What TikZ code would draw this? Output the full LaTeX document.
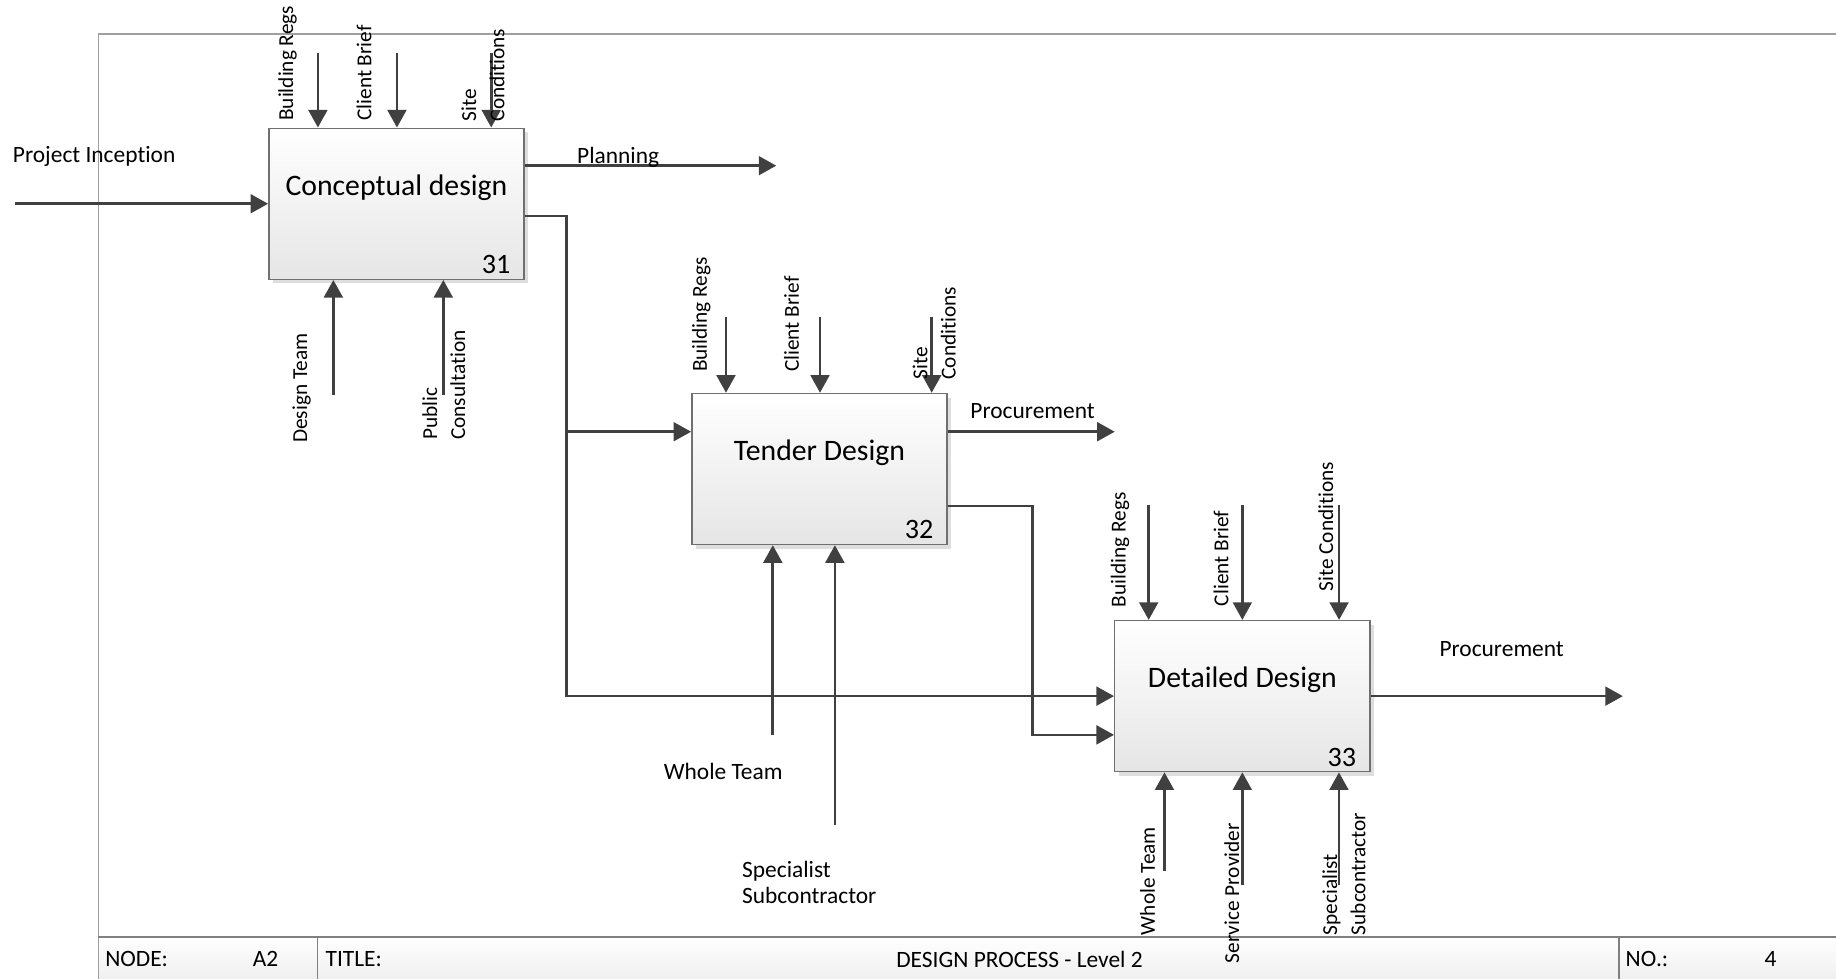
\documentclass[tikz,border=0pt]{standalone}
\usepackage{fontspec}
\setmainfont{Carlito}[Ligatures={NoCommon,NoContextual}]
\usetikzlibrary{arrows.meta,shadows,calc}

\definecolor{flowgray}{HTML}{404040}
\definecolor{framegray}{HTML}{A0A0A0}
\definecolor{footgray}{HTML}{808080}
\definecolor{boxedge}{HTML}{707070}

\begin{document}
\begin{tikzpicture}[x=0.5pt,y=-0.5pt,
  flow/.style={draw=flowgray, line width=1.15pt, -{Triangle[length=7.5pt,width=8pt]}},
  actbox/.style={draw=boxedge, line width=0.6pt, minimum width=109pt, minimum height=64.5pt,
    inner sep=0pt, top color=white, bottom color=black!10,
    drop shadow={shadow xshift=1.8pt, shadow yshift=-1.8pt, fill=black!13, opacity=1}},
  acttitle/.style={font=\fontsize{12.7}{15}\selectfont, inner sep=0pt},
  actnum/.style={font=\fontsize{12}{14}\selectfont, inner sep=0pt, anchor=east},
  vlab/.style={font=\fontsize{9.1}{12}\selectfont, rotate=90, anchor=west, inner sep=0pt, align=left},
  hlab/.style={font=\fontsize{10}{10.8}\selectfont, anchor=west, inner sep=0pt, align=left},
  foot/.style={font=\fontsize{10}{12}\selectfont, inner sep=0pt},
  frameline/.style={draw=framegray, line width=0.7pt},
  footline/.style={draw=footgray, line width=0.7pt}
]
\useasboundingbox (0,0) rectangle (1568,836);

% sheet frame and title strip
\fill[top color=white, bottom color=black!6] (84,800) rectangle (1568,836);
\draw[frameline] (1568,28.8) -- (84,28.8) -- (84,836);
\draw[footline] (84,800) -- (1568,800);
\draw[footline] (271.2,800) -- (271.2,836);
\draw[footline] (1382.4,800) -- (1382.4,836);
\node[foot, anchor=west] (fNode) at (89.5,819) {NODE:};
\node[foot, anchor=west] (fNodeVal) at (215.6,819) {A2};
\node[foot, anchor=west] (fTitle) at (277.7,819) {TITLE:};
\node[foot] (fTitleVal) at (870.7,819) {DESIGN PROCESS - Level 2};
\node[foot, anchor=west] (fNo) at (1388,819) {NO.:};
\node[foot] (fNoVal) at (1512,819) {4};

% activity boxes
\node[actbox] (b31) at (338.6,174) {};
\node[actbox] (b32) at (699.85,400.5) {};
\node[actbox] (b33) at (1061,594.5) {};
\node[acttitle] (t31) at ($(b31.center)+(0,-14)$) {Conceptual design};
\node[acttitle] (t32) at ($(b32.center)+(0,-14)$) {Tender Design};
\node[acttitle] (t33) at ($(b33.center)+(0,-14)$) {Detailed Design};
\node[actnum] (n31) at ($(b31.south east)+(-12,-13)$) {31};
\node[actnum] (n32) at ($(b32.south east)+(-12,-13)$) {32};
\node[actnum] (n33) at ($(b33.south east)+(-12,-13)$) {33};

% ---- Conceptual design ----
\coordinate (inA) at (12.8,174);
\draw[flow] (inA) -- (b31.west);
\node[hlab] (lInA) at (10.7,134) {Project Inception};

\coordinate (c31a) at (271.5,45.5);
\coordinate (c31b) at (339,45.5);
\coordinate (c31c) at (419.5,45.5);
\draw[flow] (c31a) -- (c31a |- b31.north);
\draw[flow] (c31b) -- (c31b |- b31.north);
\draw[flow] (c31c) -- (c31c |- b31.north);
\node[vlab] (l31a) at (245.5,103.5) {Building Regs};
\node[vlab] (l31b) at (311,103.5) {Client Brief};
\node[vlab] (l31c) at (412.5,104) {Site\\Conditions};

\coordinate (m31a) at (284.7,337.4);
\coordinate (m31b) at (378.6,337.4);
\draw[flow] (m31a) -- (m31a |- b31.south);
\draw[flow] (m31b) -- (m31b |- b31.south);
\node[vlab] (lm31a) at (257.6,378.5) {Design Team};
\node[vlab] (lm31b) at (379,376) {Public\\Consultation};

\coordinate (planEnd) at (663,141.5);
\draw[flow] (b31.east |- planEnd) -- (planEnd);
\node[hlab, anchor=base west] (lPlan) at (492.5,140) {Planning};

\coordinate (split31) at (484,184.5);
\draw[flow] (b31.east |- split31) -- (split31) |- (b33.west);
\coordinate (tap32) at (484,368.7);
\draw[flow] (tap32) -- (tap32 -| b32.west);

% ---- Tender Design ----
\coordinate (c32a) at (620,270.5);
\coordinate (c32b) at (700.3,270.5);
\coordinate (c32c) at (795.7,270.5);
\draw[flow] (c32a) -- (c32a |- b32.north);
\draw[flow] (c32b) -- (c32b |- b32.north);
\draw[flow] (c32c) -- (c32c |- b32.north);
\node[vlab] (l32a) at (599,318) {Building Regs};
\node[vlab] (l32b) at (676,318) {Client Brief};
\node[vlab] (l32c) at (797.9,324.5) {Site\\Conditions};

\coordinate (proc32End) at (952,368.7);
\draw[flow] (b32.east |- proc32End) -- (proc32End);
\node[hlab, anchor=base west] (lProc32) at (828.4,357.3) {Procurement};

\path ($(b33.south west)+(0,-32)$) coordinate (in33b);
\coordinate (bend32) at (881.5,432.2);
\draw[flow] (b32.east |- bend32) -- (bend32) |- (in33b);

\coordinate (m32a) at (660,627.7);
\coordinate (m32b) at (713,704.6);
\draw[flow] (m32a) -- (m32a |- b32.south);
\draw[flow] (m32b) -- (m32b |- b32.south);
\node[hlab] (lm32a) at (566.5,659) {Whole Team};
\node[hlab] (lm32b) at (633.4,753.7) {Specialist\\Subcontractor};

% ---- Detailed Design ----
\coordinate (c33a) at (981,431.3);
\coordinate (c33b) at (1061,431.3);
\coordinate (c33c) at (1143.6,431.3);
\draw[flow] (c33a) -- (c33a |- b33.north);
\draw[flow] (c33b) -- (c33b |- b33.north);
\draw[flow] (c33c) -- (c33c |- b33.north);
\node[vlab] (l33a) at (956.5,519) {Building Regs};
\node[vlab] (l33b) at (1042.8,518) {Client Brief};
\node[vlab] (l33c) at (1132.2,505.5) {Site Conditions};

\coordinate (proc33End) at (1386,594.5);
\draw[flow] (b33.east) -- (proc33End);
\node[hlab] (lProc33) at (1229,554) {Procurement};

\coordinate (m33a) at (994.5,743.6);
\coordinate (m33b) at (1061,755.8);
\coordinate (m33c) at (1143.5,755.8);
\draw[flow] (m33a) -- (m33a |- b33.south);
\draw[flow] (m33b) -- (m33b |- b33.south);
\draw[flow] (m33c) -- (m33c |- b33.south);
\node[vlab] (lm33a) at (980,799) {Whole Team};
\node[vlab] (lm33b) at (1052,823) {Service Provider};
\node[vlab] (lm33c) at (1147.7,799) {Specialist\\Subcontractor};
\end{tikzpicture}
\end{document}
